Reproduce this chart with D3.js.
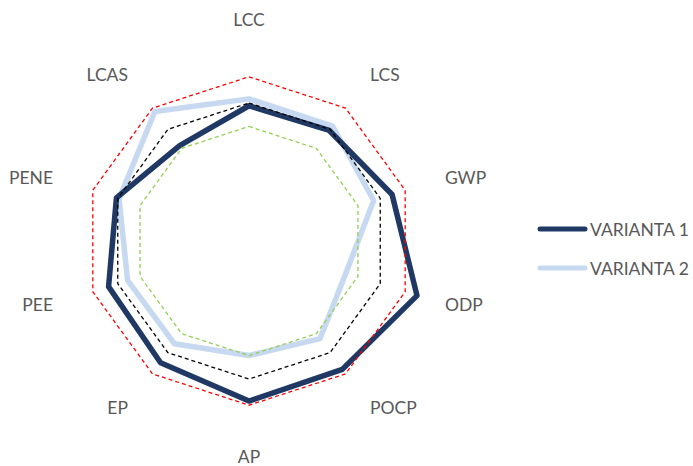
<!DOCTYPE html>
<html>
<head>
<meta charset="utf-8">
<script src="https://cdn.jsdelivr.net/npm/d3@7"></script>
<style>
  html, body { margin: 0; padding: 0; background: #fff; }
  svg { display: block; }
  text { font-family: Lato, "Noto Sans", sans-serif; fill: #595959; }
</style>
</head>
<body>
<svg id="chart" width="693" height="466"></svg>
<script>
// ---- data ----
const categories = ["LCC", "LCS", "GWP", "ODP", "POCP", "AP", "EP", "PEE", "PENE", "LCAS"];
const variant1 = [0.98, 0.99, 1.09, 1.28, 1.15, 1.16, 1.09, 1.07, 1.01, 0.855];
const variant2 = [1.03, 1.03, 0.95, 0.74, 0.875, 0.83, 0.92, 0.925, 0.99, 1.16];
const upperBound = [1.19, 1.19, 1.19, 1.19, 1.19, 1.19, 1.19, 1.19, 1.19, 1.19];
const reference = [1.0, 1.0, 1.0, 1.0, 1.0, 1.0, 1.0, 1.0, 1.0, 1.0];
const lowerBound = [0.83, 0.83, 0.83, 0.83, 0.83, 0.83, 0.83, 0.83, 0.83, 0.83];
const seriesNames = ["VARIANTA 1", "VARIANTA 2"];

// ---- layout ----
const svg = d3.select("#chart");
const cx = 249, cy = 241;
const r = d3.scaleLinear().domain([0, 1.5]).range([0, 207]);
const angle = d3.scalePoint().domain(categories).range([0, 2 * Math.PI * (categories.length - 1) / categories.length]);

const line = d3.lineRadial()
  .angle((d, i) => angle(categories[i]))
  .radius(d => r(d))
  .curve(d3.curveLinearClosed);

const g = svg.append("g").attr("transform", `translate(${cx},${cy})`);

// main series
g.append("path").datum(variant2)
  .attr("d", line).attr("fill", "none")
  .attr("stroke", "#C6D9F0").attr("stroke-width", 5.5).attr("stroke-linejoin", "round");
g.append("path").datum(variant1)
  .attr("d", line).attr("fill", "none")
  .attr("stroke", "#1F3864").attr("stroke-width", 5.5).attr("stroke-linejoin", "round");

// dashed reference rings
[[upperBound, "#FF0000"], [reference, "#000000"], [lowerBound, "#92D050"]].forEach(([vals, col]) => {
  g.append("path").datum(vals)
    .attr("d", line).attr("fill", "none")
    .attr("stroke", col).attr("stroke-width", 1.3)
    .attr("stroke-dasharray", "4,3");
});

// category labels
const Ra = 206;
categories.forEach(c => {
  const a = angle(c);
  const s = Math.sin(a), co = Math.cos(a);
  let anchor = "middle";
  if (s > 0.1) anchor = "start";
  else if (s < -0.1) anchor = "end";
  let y = -co * Ra;
  if (Math.abs(s) < 0.1) y += (co > 0 ? -16 : 9);
  g.append("text")
    .attr("x", s * Ra)
    .attr("y", y)
    .attr("text-anchor", anchor)
    .attr("dominant-baseline", "central")
    .attr("font-size", 17.5)
    .text(c);
});

// legend
const legend = svg.append("g");
const legendColors = ["#1F3864", "#C6D9F0"];
const legendY = d3.scalePoint().domain(seriesNames).range([229, 268]);
seriesNames.forEach((n, i) => {
  legend.append("line")
    .attr("x1", 540).attr("x2", 585)
    .attr("y1", legendY(n)).attr("y2", legendY(n))
    .attr("stroke", legendColors[i]).attr("stroke-width", 5).attr("stroke-linecap", "round");
  legend.append("text")
    .attr("x", 590).attr("y", legendY(n))
    .attr("dominant-baseline", "central")
    .attr("font-size", 17.5)
    .text(n);
});
</script>
</body>
</html>
